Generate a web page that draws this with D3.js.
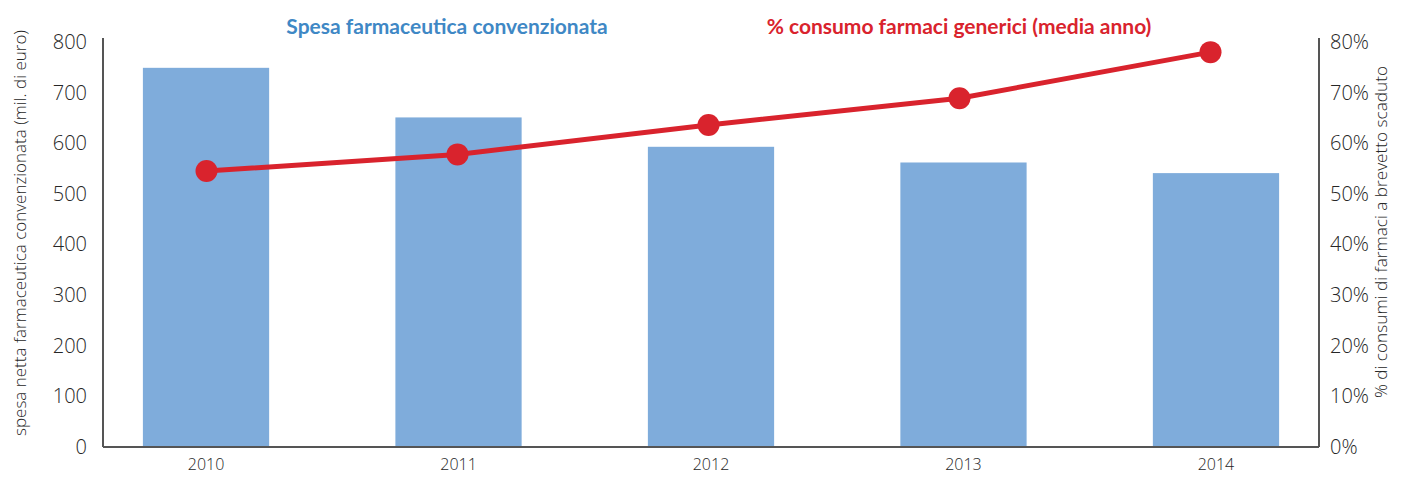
<!DOCTYPE html>
<html lang="it">
<head>
  <meta charset="UTF-8">
  <title>Spesa farmaceutica convenzionata</title>
  <script src="https://d3js.org/d3.v7.min.js"></script>
  <style>
    body { margin: 0; background: #fff; }
    text { font-family: "Open Sans", "Noto Sans", sans-serif; fill: #262626; }
  </style>
</head>
<body>
  <svg width="1402" height="477"></svg>
  <script>
    const years = ["2010", "2011", "2012", "2013", "2014"];
    const spesa = [749, 651, 593, 562, 541];
    const generici = [54.5, 57.8, 63.6, 68.9, 78.0];
    const leftTicks = [0, 100, 200, 300, 400, 500, 600, 700, 800];
    const rightTicks = [0, 10, 20, 30, 40, 50, 60, 70, 80];

    const svg = d3.select("svg");
    const mLeft = 103, mRight = 1319, mTop = 42, mBottom = 447;

    const x = d3.scaleBand().domain(years).range([mLeft, mRight])
        .paddingInner(0.5).paddingOuter(0.158);
    // the line markers sit on a slightly tighter spacing than the bars
    const xLine = d3.scalePoint().domain(years).range([mLeft + 103.5, mRight - 108.5]);
    const yL = d3.scaleLinear().domain([0, 800]).range([mBottom, mTop]);
    const yR = d3.scaleLinear().domain([0, 80]).range([mBottom, mTop]);

    // bars
    svg.append("g")
      .selectAll("rect")
      .data(years)
      .join("rect")
        .attr("x", d => x(d))
        .attr("width", x.bandwidth())
        .attr("y", (d, i) => yL(spesa[i]))
        .attr("height", (d, i) => yL(0) - yL(spesa[i]))
        .attr("fill", "#7facdb");

    // axes
    const axisL = svg.append("g")
        .attr("transform", `translate(${mLeft},0)`)
        .call(d3.axisLeft(yL).tickValues(leftTicks).tickSize(0).tickPadding(16));
    const axisR = svg.append("g")
        .attr("transform", `translate(${mRight},0)`)
        .call(d3.axisRight(yR).tickValues(rightTicks).tickSize(0).tickPadding(11)
          .tickFormat(d => d + "%"));
    const axisB = svg.append("g")
        .attr("transform", `translate(0,${mBottom})`)
        .call(d3.axisBottom(x).tickSize(0).tickPadding(12));

    [axisL, axisR].forEach(a => {
      a.select(".domain").attr("stroke", "#555").attr("stroke-width", 2)
        .attr("d", `M0,${mTop - 4}V${mBottom}`);
      a.selectAll("text").attr("font-size", 20).attr("fill", "#262626")
        .attr("font-weight", 300)
        .attr("font-family", "'Open Sans', sans-serif");
    });
    axisB.select(".domain").attr("stroke", "#555").attr("stroke-width", 2)
        .attr("d", `M${mLeft},0H${mRight}`);
    axisB.selectAll("text").attr("font-size", 16).attr("fill", "#262626")
        .attr("font-weight", 300)
        .attr("font-family", "'Open Sans', sans-serif");

    // line
    const pts = years.map((d, i) => [xLine(d), yR(generici[i])]);
    svg.append("path")
        .attr("d", d3.line()(pts))
        .attr("fill", "none")
        .attr("stroke", "#d9232d")
        .attr("stroke-width", 5);
    svg.append("g")
      .selectAll("circle")
      .data(pts)
      .join("circle")
        .attr("cx", d => d[0])
        .attr("cy", d => d[1])
        .attr("r", 11)
        .attr("fill", "#d9232d");

    // titles
    svg.append("text")
        .attr("x", 447).attr("y", 34)
        .attr("text-anchor", "middle")
        .attr("font-size", 21).attr("font-weight", "bold")
        .style("fill", "#3f88c5")
        .style("font-family", "Lato, 'Open Sans', sans-serif")
        .text("Spesa farmaceutica convenzionata");
    svg.append("text")
        .attr("x", 959).attr("y", 34)
        .attr("text-anchor", "middle")
        .attr("font-size", 21).attr("font-weight", "bold")
        .style("fill", "#d9232d")
        .style("font-family", "Lato, 'Open Sans', sans-serif")
        .text("% consumo farmaci generici (media anno)");

    svg.append("text")
        .attr("transform", "translate(26,233) rotate(-90)")
        .attr("text-anchor", "middle")
        .attr("font-size", 17).attr("font-weight", 300)
        .text("spesa netta farmaceutica convenzionata (mil. di euro)");
    svg.append("text")
        .attr("transform", "translate(1387,232) rotate(-90)")
        .attr("text-anchor", "middle")
        .attr("font-size", 17.2).attr("font-weight", 300)
        .text("% di consumi di farmaci a brevetto scaduto");
  </script>
</body>
</html>
